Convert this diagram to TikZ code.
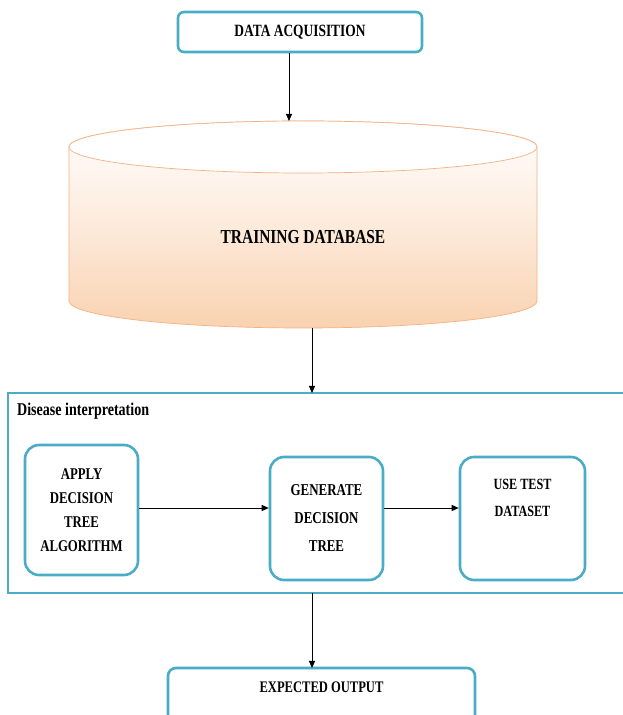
\documentclass[tikz,border=0pt]{standalone}
\usepackage{fontspec}
\setmainfont{Liberation Serif}[FakeStretch=0.78]
\usetikzlibrary{arrows.meta}
\definecolor{teal}{HTML}{4BACC6}
\definecolor{peach}{HTML}{F9D2B0}
\definecolor{peachline}{HTML}{F4B183}
\tikzset{
  tbox/.style={draw=teal, line width=2.6pt, rounded corners=6pt, fill=white},
  ibox/.style={draw=teal, line width=2.6pt, rounded corners=14pt, fill=white},
  txt/.style={font=\bfseries\fontsize{16.4}{24}\selectfont, align=center, inner sep=0pt},
  conn/.style={line width=0.9pt, -{Triangle[length=7pt,width=6pt]}},
}
\begin{document}
\begin{tikzpicture}[x=1pt,y=1pt]
\clip (0,0) rectangle (623,715);
\fill[white] (0,0) rectangle (623,715);
% top box
\node[tbox, minimum width=244pt, minimum height=40pt, txt, font=\bfseries\fontsize{17.2}{20}\selectfont] (acq) at (300,683) {DATA ACQUISITION};
% cylinder
\shade[top color=white, bottom color=peach, middle color=white!55!peach, draw=peachline, line width=0.7pt]
  (69,568) -- (69,414) arc[start angle=180, end angle=360, x radius=234, y radius=27] -- (537,568)
  arc[start angle=0, end angle=180, x radius=234, y radius=26] -- cycle;
\draw[peachline, line width=0.7pt, fill=white] (303,568) ellipse[x radius=234, y radius=26];
\node[txt, font=\bfseries\fontsize{19.8}{22}\selectfont] (train) at (303,478) {TRAINING DATABASE};
\coordinate (cyltop) at (289,594);
\coordinate (cylbot) at (312,387);
% outer box
\draw[teal, line width=2.6pt] (8,122) rectangle (640,322);
\coordinate (outtop) at (312,322);
\coordinate (outbot) at (312,122);
\node[anchor=west, inner sep=0pt, font=\bfseries\fontsize{18}{20}\selectfont] (dis) at (17,304) {Disease interpretation};
% inner boxes
\node[ibox, minimum width=113pt, minimum height=130pt, txt] (b1) at (81.5,205) {APPLY\\DECISION\\TREE\\ALGORITHM};
\node[ibox, minimum width=113pt, minimum height=123pt, txt, font=\bfseries\fontsize{16.6}{28}\selectfont] (b2) at (326.5,196.5) {GENERATE\\DECISION\\TREE};
\node[ibox, minimum width=125pt, minimum height=123pt] (b3) at (522.5,196.5) {};
\node[txt, font=\bfseries\fontsize{15.6}{27}\selectfont] (b3t) at (522.5,217) {USE TEST\\DATASET};
\coordinate (ay) at (0,207);
% expected output
\draw[teal, line width=2.6pt, rounded corners=8pt, fill=white] (168,-30) rectangle (475,47);
\coordinate (exptop) at (312,47);
\node[txt, font=\bfseries\fontsize{16.1}{18}\selectfont] (exp) at (321.5,28) {EXPECTED OUTPUT};
% connectors
\draw[conn] (acq.south -| cyltop) -- (cyltop);
\draw[conn] (cylbot) -- (outtop);
\draw[conn] (b1.east |- ay) -- (b2.west |- ay);
\draw[conn] (b2.east |- ay) -- (b3.west |- ay);
\draw[conn] (outbot) -- (exptop);
\end{tikzpicture}
\end{document}
